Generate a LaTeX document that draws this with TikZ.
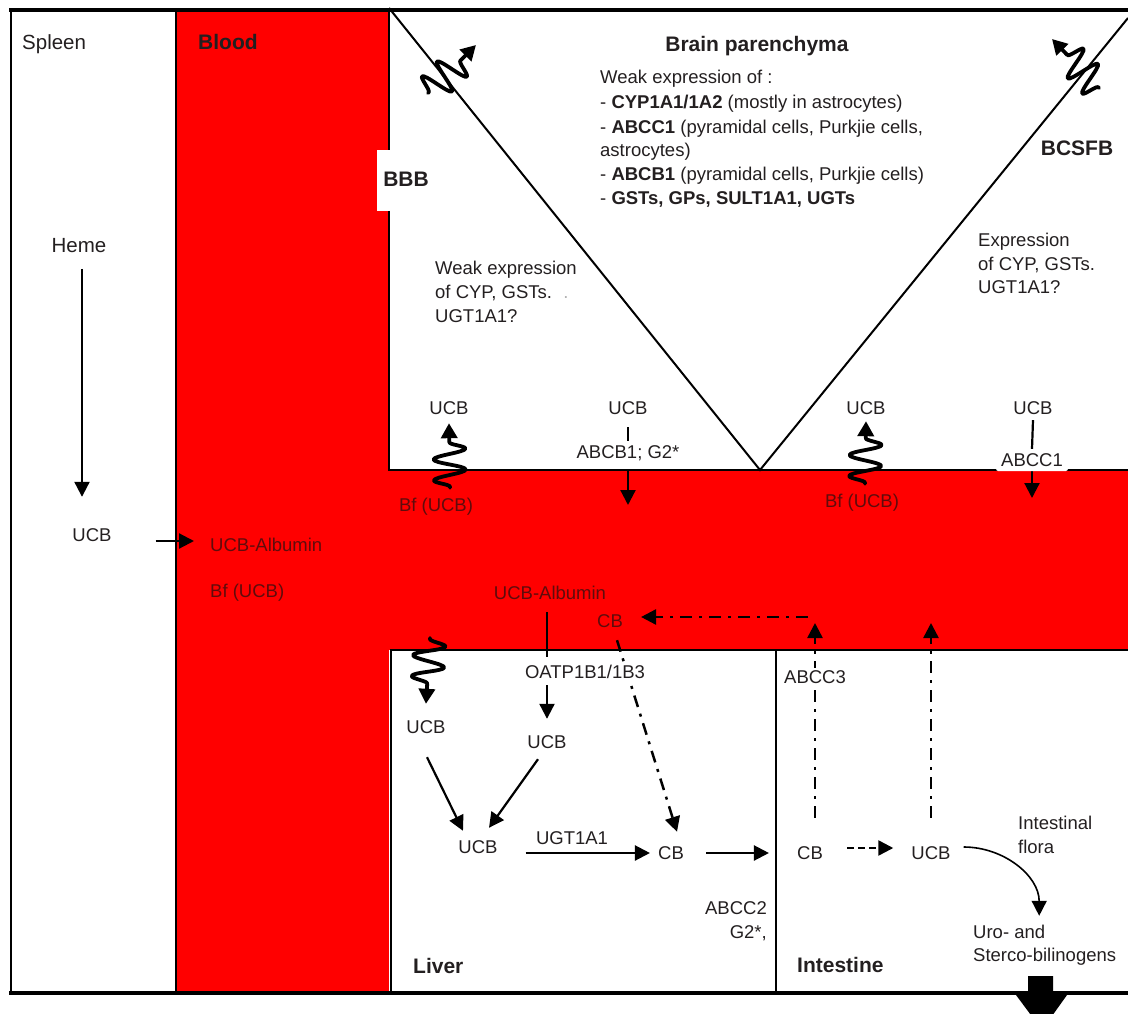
\documentclass[tikz,border=0pt]{standalone}
\usepackage{fontspec}
\setmainfont{Liberation Sans}
\usetikzlibrary{arrows.meta,decorations.pathmorphing,calc}
\definecolor{tcol}{RGB}{35,31,32}
\definecolor{mar}{RGB}{95,12,12}
\definecolor{bred}{RGB}{255,0,0}
\pgfdeclarelayer{bg}
\pgfdeclarelayer{conn}
\pgfsetlayers{bg,conn,main}
\begin{document}
\begin{tikzpicture}[x=1pt,y=-1pt,
  txt/.style={font=\fontsize{18.5}{22}\selectfont, text=tcol, inner sep=0pt, text height=13.5pt, text depth=0.5pt},
  big/.style={txt, font=\fontsize{20.5}{24}\selectfont, text height=15pt},
  ttl/.style={txt, font=\fontsize{21}{24}\selectfont\bfseries, text height=15pt},
  mtxt/.style={txt, text=mar},
  tip/.style={-{Triangle[length=15pt,width=15pt]}},
  arr/.style={line width=2.2pt, tip},
  plain/.style={line width=2.2pt},
  frame/.style={line width=2.2pt},
  dashdot/.style={line width=2.5pt, dash pattern=on 12pt off 7pt on 3pt off 7pt, tip},
  dsh/.style={line width=2.5pt, dash pattern=on 7pt off 4pt, tip},
  squig/.style={line width=3.8pt, line cap=round, line join=round, decorate,
    decoration={snake, amplitude=16pt, segment length=21pt, pre length=1pt, post length=16pt},
    -{Triangle[length=15pt,width=16pt]}},
]
\useasboundingbox (0,0) rectangle (1128,1014);
\begin{pgfonlayer}{bg}
  \fill[bred] (176,10) rectangle (389,993);
  \fill[bred] (389,470) rectangle (1128,650);
  \fill[white] (377,150) rectangle (390,211);
  \draw[frame] (11,10) -- (11,993);
  \draw[frame] (176,10) -- (176,993);
  \draw[frame] (389,10) -- (389,150);
  \draw[frame] (389,211) -- (389,470) -- (1128,470);
  \draw[frame] (391,993) -- (391,650) -- (1128,650);
  \draw[frame] (776,650) -- (776,993);
  \draw[line width=2pt] (389,8) -- (760,470) -- (1128,18);
  \draw[line width=4pt] (9,10) -- (1128,10);
  \draw[line width=4pt] (9,993) -- (1128,993);
\end{pgfonlayer}

% labels
\node[big, anchor=west] (spleen) at (22,42) {Spleen};
\node[ttl, anchor=west] (blood) at (198,42) {Blood};
\node[ttl] (brain) at (757,44) {Brain parenchyma};
\node[ttl] (bbb) at (406,179) {BBB};
\node[ttl] (bcsfb) at (1077,148) {BCSFB};
\node[big] (heme) at (79,245) {Heme};
\node[txt] (ucbS) at (92,535) {UCB};
\node[mtxt, anchor=west] (alb) at (210,545) {UCB-Albumin};
\node[mtxt, anchor=west] (bfA) at (210,591) {Bf (UCB)};

\node[txt, anchor=west] (b1) at (600,77) {Weak expression of :};
\node[txt, anchor=west] (b2) at (600,102) {- \textbf{CYP1A1/1A2} (mostly in astrocytes)};
\node[txt, anchor=west] (b3) at (600,127) {- \textbf{ABCC1} (pyramidal cells, Purkjie cells,};
\node[txt, anchor=west] (b4) at (600,150) {astrocytes)};
\node[txt, anchor=west] (b5) at (600,174) {- \textbf{ABCB1} (pyramidal cells, Purkjie cells)};
\node[txt, anchor=west] (b6) at (600,198) {- \textbf{GSTs, GPs, SULT1A1, UGTs}};

\node[txt, anchor=west] (w1) at (435,268) {Weak expression};
\node[txt, anchor=west] (w2) at (435,292) {of CYP, GSTs.};
\node[txt, anchor=west] (w3) at (435,316) {UGT1A1?};
\node[txt, text=gray!60] (dot) at (566,292) {.};
\node[txt, anchor=west] (e1) at (978,240) {Expression};
\node[txt, anchor=west] (e2) at (978,264) {of CYP, GSTs.};
\node[txt, anchor=west] (e3) at (978,287) {UGT1A1?};

\node[txt] (ucbB1) at (449,408) {UCB};
\node[mtxt] (bfB1) at (436,505) {Bf (UCB)};
\node[txt] (ucbB2) at (628,408) {UCB};
\node[txt] (abcb) at (628,452) {ABCB1; G2*};
\node[txt] (ucbB3) at (866,408) {UCB};
\node[mtxt] (bfB2) at (862,501) {Bf (UCB)};
\node[txt] (ucbB4) at (1033,408) {UCB};
\node[txt, fill=white, rounded corners=2pt, inner xsep=5pt, inner ysep=4pt] (abcc1) at (1032,460) {ABCC1};

\node[mtxt] (alb2) at (550,593) {UCB-Albumin};
\node[mtxt] (cbB) at (610,621) {CB};
\node[txt, fill=white, inner sep=2pt] (oatp) at (585,672) {OATP1B1/1B3};
\node[txt] (ucbL1) at (426,727) {UCB};
\node[txt] (ucbL2) at (547,742) {UCB};
\node[txt] (ucbL3) at (478,847) {UCB};
\node[txt] (ugt) at (572,838) {UGT1A1};
\node[txt] (cbL) at (671,853) {CB};
\node[txt, anchor=east] (abcc2) at (767,908) {ABCC2};
\node[txt, anchor=east] (g2) at (767,932) {G2*,};
\node[ttl, anchor=west] (liver) at (413,966) {Liver};

\node[txt] (cbI) at (810,853) {CB};
\node[txt] (ucbI) at (931,853) {UCB};
\node[txt, fill=white, inner sep=2pt] (abcc3) at (815,677) {ABCC3};
\node[txt, anchor=west] (fl1) at (1018,823) {Intestinal};
\node[txt, anchor=west] (fl2) at (1018,847) {flora};
\node[txt, anchor=west] (uro1) at (973,932) {Uro- and};
\node[txt, anchor=west] (uro2) at (973,955) {Sterco-bilinogens};
\node[ttl, anchor=west] (intest) at (797,965) {Intestine};

% free ends
\coordinate (abcbEnd) at (628,505);
\coordinate (abcc1End) at (1032,498);
\coordinate (sqA) at (428,93);
\coordinate (sqB) at (476,45);
\coordinate (sqC) at (1099,88);
\coordinate (sqD) at (1052,39);
\coordinate (sqL) at (430,638);
\coordinate (upCB) at (815,623);
\coordinate (upUCB) at (931,623);
\coordinate (hStart) at (808,617);

\begin{pgfonlayer}{conn}
  \draw[arr] ([xshift=3pt,yshift=-16pt]heme.south) -- ([xshift=-10pt,yshift=31pt]ucbS.north);
  \draw[arr] ([xshift=44pt,yshift=-6pt]ucbS.east) -- ([xshift=-16pt,yshift=4pt]alb.west);
  \draw[plain] ([yshift=-12pt]ucbB2.south) -- ([yshift=4pt]abcb.north);
  \draw[arr] ([yshift=-11pt]abcb.south) -- (abcbEnd);
  \draw[plain] ([yshift=-5pt]ucbB4.south) -- (abcc1.north);
  \draw[arr] (abcc1.south) -- (abcc1End);
  \draw[squig] (sqA) -- (sqB);
  \draw[squig] (sqC) -- (sqD);
  \draw[squig] ([xshift=14pt,yshift=10pt]bfB1.north) -- ([yshift=-8pt]ucbB1.south);
  \draw[squig] ([xshift=3pt,yshift=10pt]bfB2.north) -- ([yshift=-6pt]ucbB3.south);
  \draw[squig] (sqL) -- ([yshift=16pt]ucbL1.north);
  \draw[plain] ($(alb2.south -| ucbL2)+(0,12)$) -- ($(oatp.north -| ucbL2)+(0,-6)$);
  \draw[arr] ($(oatp.south -| ucbL2)+(0,4)$) -- ($(ucbL2.north)+(0,-16)$);
  \draw[dashdot] ($(cbB.south)+(7,12)$) -- ($(cbL.north)+(6,-14)$);
  \draw[arr] ($(ucbL1.south)+(1,23)$) -- ($(ucbL3.north)+(-15,-9)$);
  \draw[arr] ($(ucbL2.south)+(-9,10)$) -- ($(ucbL3.north)+(11,-12)$);
  \draw[arr] ($(ucbL3.east |- cbL.west)+(28,0)$) -- ($(cbL.west)+(-8,0)$);
  \draw[arr] ($(cbL.east)+(22,0)$) -- ($(cbI.west)+(-28,0)$);
  \draw[dsh] ($(cbI.east)+(24,-5)$) -- ($(ucbI.west)+(-18,-5)$);
  \draw[dashdot] ($(cbI.north)+(5,-28)$) -- (upCB);
  \draw[dashdot] ($(ucbI.north)+(0,-28)$) -- (upUCB);
  \draw[dashdot] (hStart) -- ($(cbB.east)+(18,-4)$);
  \draw[line width=1.6pt, tip] ($(ucbI.east)+(13,-6)$) to[out=0,in=90] ($(uro1.north)+(30,-9)$);
\end{pgfonlayer}

% excretion arrow
\fill[black] (1028,976) -- (1053,976) -- (1053,995) -- (1067,995) -- (1042,1030) -- (1016,995) -- (1028,995) -- cycle;
\end{tikzpicture}
\end{document}
